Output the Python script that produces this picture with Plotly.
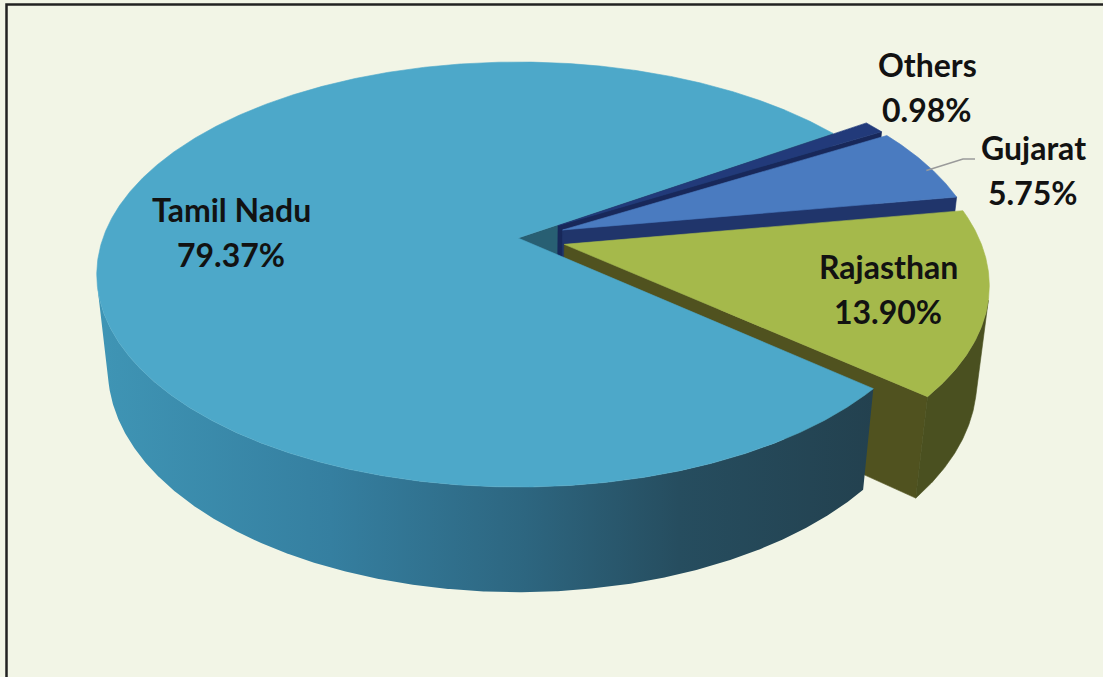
import numpy as np
import plotly.graph_objects as go

# ---------------- data ----------------
categories = ["Tamil Nadu", "Rajasthan", "Gujarat", "Others"]
shares = [79.37, 13.90, 5.75, 0.98]
pct_labels = ["79.37%", "13.90%", "5.75%", "0.98%"]
explode = [0.0, 0.115, 0.115, 0.115]          # fraction of radius

# ---------------- style ----------------
top_colors = ["#4DA8C9", "#A5B94B", "#4A7BC0", "#223A7A"]
wall_colors = ["#2F6C84", "#4A5020", "#2D4E8A", "#1A2B5C"]
side_colors = ["#285F73", "#50521F", "#20356B", "#18285A"]
tn_wall_scale = [[0.0, "#3F95B5"], [0.3, "#357FA0"], [0.55, "#2D6680"],
                 [0.75, "#264D5F"], [1.0, "#23414F"]]
BG = "#F2F5E6"

START_DEG = 33.8          # first slice starts here, slices go counter-clockwise
R, H, D = 0.198, 0.053, 1.0
SIN_A = 0.497
COS_A = np.sqrt(1 - SIN_A ** 2)
F = 2096.0
CX, CY = 518.0, 238.0
CAM = np.array([0.0, -D * COS_A, D * SIN_A])


def proj(X, Y, Z):
    X, Y, Z = np.asarray(X, float), np.asarray(Y, float), np.asarray(Z, float)
    rx, ry, rz = X - CAM[0], Y - CAM[1], Z - CAM[2]
    yc = ry * SIN_A + rz * COS_A
    zc = ry * COS_A - rz * SIN_A
    return CX + F * rx / zc, CY - F * yc / zc


total = sum(shares)
angles = []
a = START_DEG
for v in shares:
    span = 360.0 * v / total
    angles.append((a, a + span))
    a += span

traces_by_slice = {}


def poly(xs, ys, color, name, grad=None):
    kw = dict(x=list(xs) + [xs[0]], y=list(ys) + [ys[0]], mode="lines", fill="toself",
              line=dict(width=0.6, color=color), fillcolor=color, hoverinfo="skip",
              showlegend=False, name=name)
    if grad is not None:
        kw["fillgradient"] = dict(type="horizontal", colorscale=grad)
        kw["line"] = dict(width=0)
    return go.Scatter(**kw)


for i, (a0, a1) in enumerate(angles):
    m = np.radians((a0 + a1) / 2)
    ox, oy = explode[i] * R * np.cos(m), explode[i] * R * np.sin(m)
    phi = np.radians(np.linspace(a0, a1, max(4, int((a1 - a0) * 4))))
    rimx, rimy = ox + R * np.cos(phi), oy + R * np.sin(phi)
    parts = {"side": [], "wall": None, "top": None}
    # radial (cut) faces
    for ang, nang in ((a0, a0 - 90), (a1, a1 + 90)):
        t = np.radians(ang)
        n = np.array([np.cos(np.radians(nang)), np.sin(np.radians(nang)), 0.0])
        mid = np.array([ox + 0.5 * R * np.cos(t), oy + 0.5 * R * np.sin(t), -H / 2])
        if np.dot(CAM - mid, n) > 0:
            X = [ox, ox + R * np.cos(t), ox + R * np.cos(t), ox]
            Y = [oy, oy + R * np.sin(t), oy + R * np.sin(t), oy]
            Z = [0, 0, -H, -H]
            sx, sy = proj(X, Y, Z)
            parts["side"].append(poly(sx, sy, side_colors[i], categories[i]))
    # outer wall (visible part)
    vis = [np.dot(CAM - np.array([x, y, -H / 2]), np.array([np.cos(p), np.sin(p), 0])) > 0
           for x, y, p in zip(rimx, rimy, phi)]
    idx = np.where(vis)[0]
    if len(idx) > 1:
        vx, vy = rimx[idx], rimy[idx]
        tx, ty = proj(vx, vy, np.zeros_like(vx))
        bx, by = proj(vx[::-1], vy[::-1], np.full_like(vx, -H))
        xs, ys = np.concatenate([tx, bx]), np.concatenate([ty, by])
        grad = tn_wall_scale if i == 0 else None
        parts["wall"] = poly(xs, ys, wall_colors[i], categories[i], grad)
    # top face
    tx, ty = proj(np.concatenate([[ox], rimx]), np.concatenate([[oy], rimy]),
                  np.zeros(len(rimx) + 1))
    parts["top"] = poly(tx, ty, top_colors[i], categories[i])
    traces_by_slice[i] = parts

fig = go.Figure()
# painter's order: TN cut faces, then exploded slices back to front, then TN body
for tr in traces_by_slice[0]["side"]:
    fig.add_trace(tr)
for i in [3, 2, 1]:
    p = traces_by_slice[i]
    for tr in p["side"]:
        fig.add_trace(tr)
    if p["wall"] is not None:
        fig.add_trace(p["wall"])
    fig.add_trace(p["top"])
if traces_by_slice[0]["wall"] is not None:
    fig.add_trace(traces_by_slice[0]["wall"])
fig.add_trace(traces_by_slice[0]["top"])

# ---------------- labels ----------------
label_pos = {  # (center x, baseline of first line)
    "Tamil Nadu": (231, 220),
    "Rajasthan": (888, 277),
    "Gujarat": (1033, 158),
    "Others": (927, 75),
}
LINE_GAP = 45
font = dict(family="Lato, 'Open Sans', sans-serif", size=32, color="#121212", weight="bold")
annotations = []
for name, pct in zip(categories, pct_labels):
    x, yb = label_pos[name]
    for k, txt in enumerate([name, pct]):
        annotations.append(dict(x=x, y=yb + k * LINE_GAP - 11, text=txt, showarrow=False,
                                xanchor="center", yanchor="middle", font=font,
                                xref="x", yref="y"))

# leader line for Gujarat, from its rim midpoint to the label
gi = categories.index("Gujarat")
ga0, ga1 = angles[gi]
gm = np.radians((ga0 + ga1) / 2)
gox, goy = explode[gi] * R * np.cos(gm), explode[gi] * R * np.sin(gm)
lx, ly = proj(gox + 1.0 * R * np.cos(gm), goy + 1.0 * R * np.sin(gm), 0.0)
lx, ly = float(lx), float(ly) + 6
end_x = label_pos["Gujarat"][0] - 58
end_y = label_pos["Gujarat"][1] + 1
shapes = [
    dict(type="path", path=f"M {lx},{ly} L {end_x - 12},{end_y} L {end_x},{end_y}",
         line=dict(color="#9A9A9A", width=1.5), xref="x", yref="y"),
    dict(type="rect", x0=6.5, y0=4.5, x1=1200, y1=800, xref="x", yref="y",
         line=dict(color="#222222", width=2.5), fillcolor="rgba(0,0,0,0)", layer="above"),
]

W, Hgt = 1103, 677
fig.update_layout(
    width=W, height=Hgt,
    margin=dict(l=0, r=0, t=0, b=0),
    paper_bgcolor=BG, plot_bgcolor=BG,
    xaxis=dict(range=[0, W], visible=False, fixedrange=True),
    yaxis=dict(range=[Hgt, 0], visible=False, fixedrange=True),
    annotations=annotations, shapes=shapes, showlegend=False,
)

fig.write_html(
    "out.html",
    config={"displayModeBar": False, "staticPlot": True},
    post_script=("document.body.style.margin='0';"
                 "document.body.style.overflow='hidden';"
                 f"document.body.style.background='{BG}';"),
)
